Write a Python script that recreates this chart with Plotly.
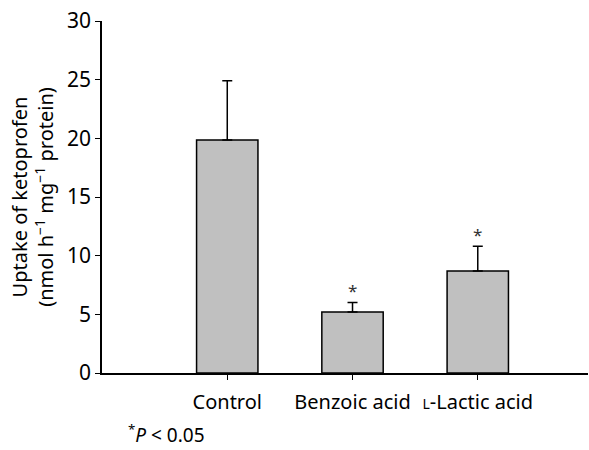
import plotly.graph_objects as go

categories = ["Control", "Benzoic acid", "L-Lactic acid"]
tick_labels = ["Control", "Benzoic acid", "<span style='font-size:14px'>L</span>-Lactic acid"]
positions = [1, 2, 3]
uptake = [19.85, 5.2, 8.7]
sem = [5.05, 0.8, 2.1]
significant = [False, True, True]

fig = go.Figure()
fig.add_trace(go.Bar(
    x=positions, y=uptake, width=0.49,
    marker=dict(color="#c0c0c0", line=dict(color="black", width=1.5)),
    error_y=dict(type="data", array=sem, arrayminus=[0] * len(sem), symmetric=False,
                 color="black", thickness=1.5, width=5),
    showlegend=False,
))

for x, y, e, s in zip(positions, uptake, sem, significant):
    if s:
        fig.add_annotation(x=x, y=y + e, text="*", showarrow=False, yshift=12,
                           font=dict(size=17, color="#333"), xref="x", yref="y")

fig.add_annotation(xref="paper", yref="paper", x=0.05, y=-0.218, xanchor="left", yanchor="bottom",
                   text="<sup>*</sup><i>P</i> < 0.05", showarrow=False,
                   font=dict(size=19, color="black", family="Noto Sans"))

fig.update_layout(
    width=589, height=450,
    margin=dict(l=102, r=1, t=21, b=77),
    plot_bgcolor="white", paper_bgcolor="white",
    font=dict(family="Noto Sans", size=18, color="black"),
    xaxis=dict(range=[0, 3.88], tickmode="array", tickvals=positions, ticktext=tick_labels,
               showline=True, linecolor="black", linewidth=2, ticks="outside", ticklen=5,
               tickcolor="black", showgrid=False, zeroline=False, ticklabelstandoff=5,
               tickfont=dict(size=20)),
    yaxis=dict(range=[0, 30], tickvals=[0, 5, 10, 15, 20, 25, 30], showline=True,
               linecolor="black", linewidth=1.5, ticks="outside", ticklen=5, tickcolor="black",
               showgrid=False, zeroline=False, tickfont=dict(size=21),
               title=dict(text="Uptake of ketoprofen<br>(nmol h<sup>−1</sup> mg<sup>−1</sup> protein)",
                          standoff=8, font=dict(size=20))),
)

fig.write_html("out.html")
